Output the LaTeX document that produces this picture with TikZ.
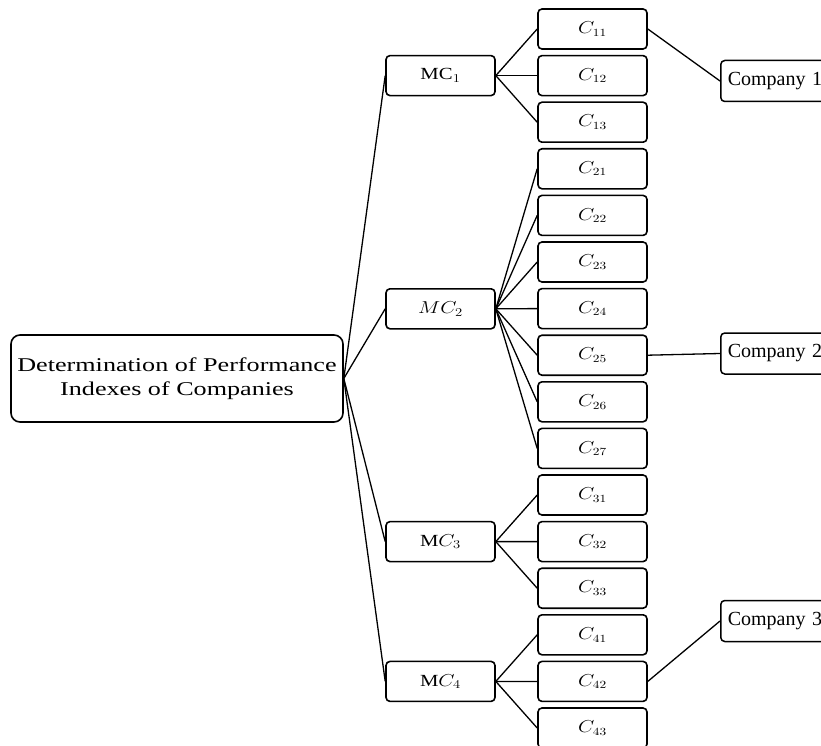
\documentclass[tikz,border=0pt]{standalone}
\usepackage{fontspec}
\setmainfont{Liberation Serif}
\newcommand{\sx}[1]{\scalebox{1.22}[1]{#1}}
\begin{document}
\begin{tikzpicture}[x=1pt,y=-1pt,
  box/.style={draw, line width=1.6pt, rounded corners=4pt, inner sep=0pt,
    minimum width=109pt, minimum height=40pt, font=\fontsize{16}{18}\selectfont},
  mcbox/.style={box, font=\fontsize{17}{19}\selectfont},
  comp/.style={draw, line width=1.5pt, rounded corners=4pt, inner xsep=7pt, inner ysep=0pt,
    minimum height=41pt, text width=106pt, align=left, font=\fontsize{20}{22}\selectfont},
  link/.style={line width=1.3pt}]
\useasboundingbox (0,0) rectangle (821,746);
\clip (0,0) rectangle (821,746);

\node[draw, line width=1.6pt, rounded corners=9pt, minimum width=332pt, minimum height=87pt, inner sep=0pt]
  (root) at (177,378.5)
  {\fontsize{19.5}{24}\selectfont\scalebox{1.34}[1]{\begin{tabular}{@{}c@{}}Determination of Performance\\Indexes of Companies\end{tabular}}};

\node[mcbox] (mc1) at (440.5,75.6)  {\sx{$\mathrm{MC}_1$}};
\node[mcbox] (mc2) at (440.5,308.8) {\sx{$MC_2$}};
\node[mcbox] (mc3) at (440.5,541.6) {\sx{$\mathrm{M}C_3$}};
\node[mcbox] (mc4) at (440.5,681.4) {\sx{$\mathrm{M}C_4$}};

\foreach \n [count=\i from 0] in {11,12,13,21,22,23,24,25,26,27,31,32,33,41,42,43}
  \node[box] (c\n) at (592.5,{29+46.6*\i}) {\sx{$C_{\n}$}};

\node[comp, anchor=west] (co1) at (720,81)    {Company 1};
\node[comp, anchor=west] (co2) at (720,353.5) {Company 2};
\node[comp, anchor=west] (co3) at (720,621)   {Company 3};

\foreach \m in {1,2,3,4}
  \draw[link] (root.east) -- (mc\m.west);

\def\listA{11,12,13}
\def\listB{21,22,23,24,25,26,27}
\def\listC{31,32,33}
\def\listD{41,42,43}
\foreach \n in \listA \draw[link] (mc1.east) -- (c\n.west);
\foreach \n in \listB \draw[link] (mc2.east) -- (c\n.west);
\foreach \n in \listC \draw[link] (mc3.east) -- (c\n.west);
\foreach \n in \listD \draw[link] (mc4.east) -- (c\n.west);

\draw[link] (c11.east) -- (co1.west);
\draw[link] (c25.east) -- (co2.west);
\draw[link] (c42.east) -- (co3.west);
\end{tikzpicture}
\end{document}
